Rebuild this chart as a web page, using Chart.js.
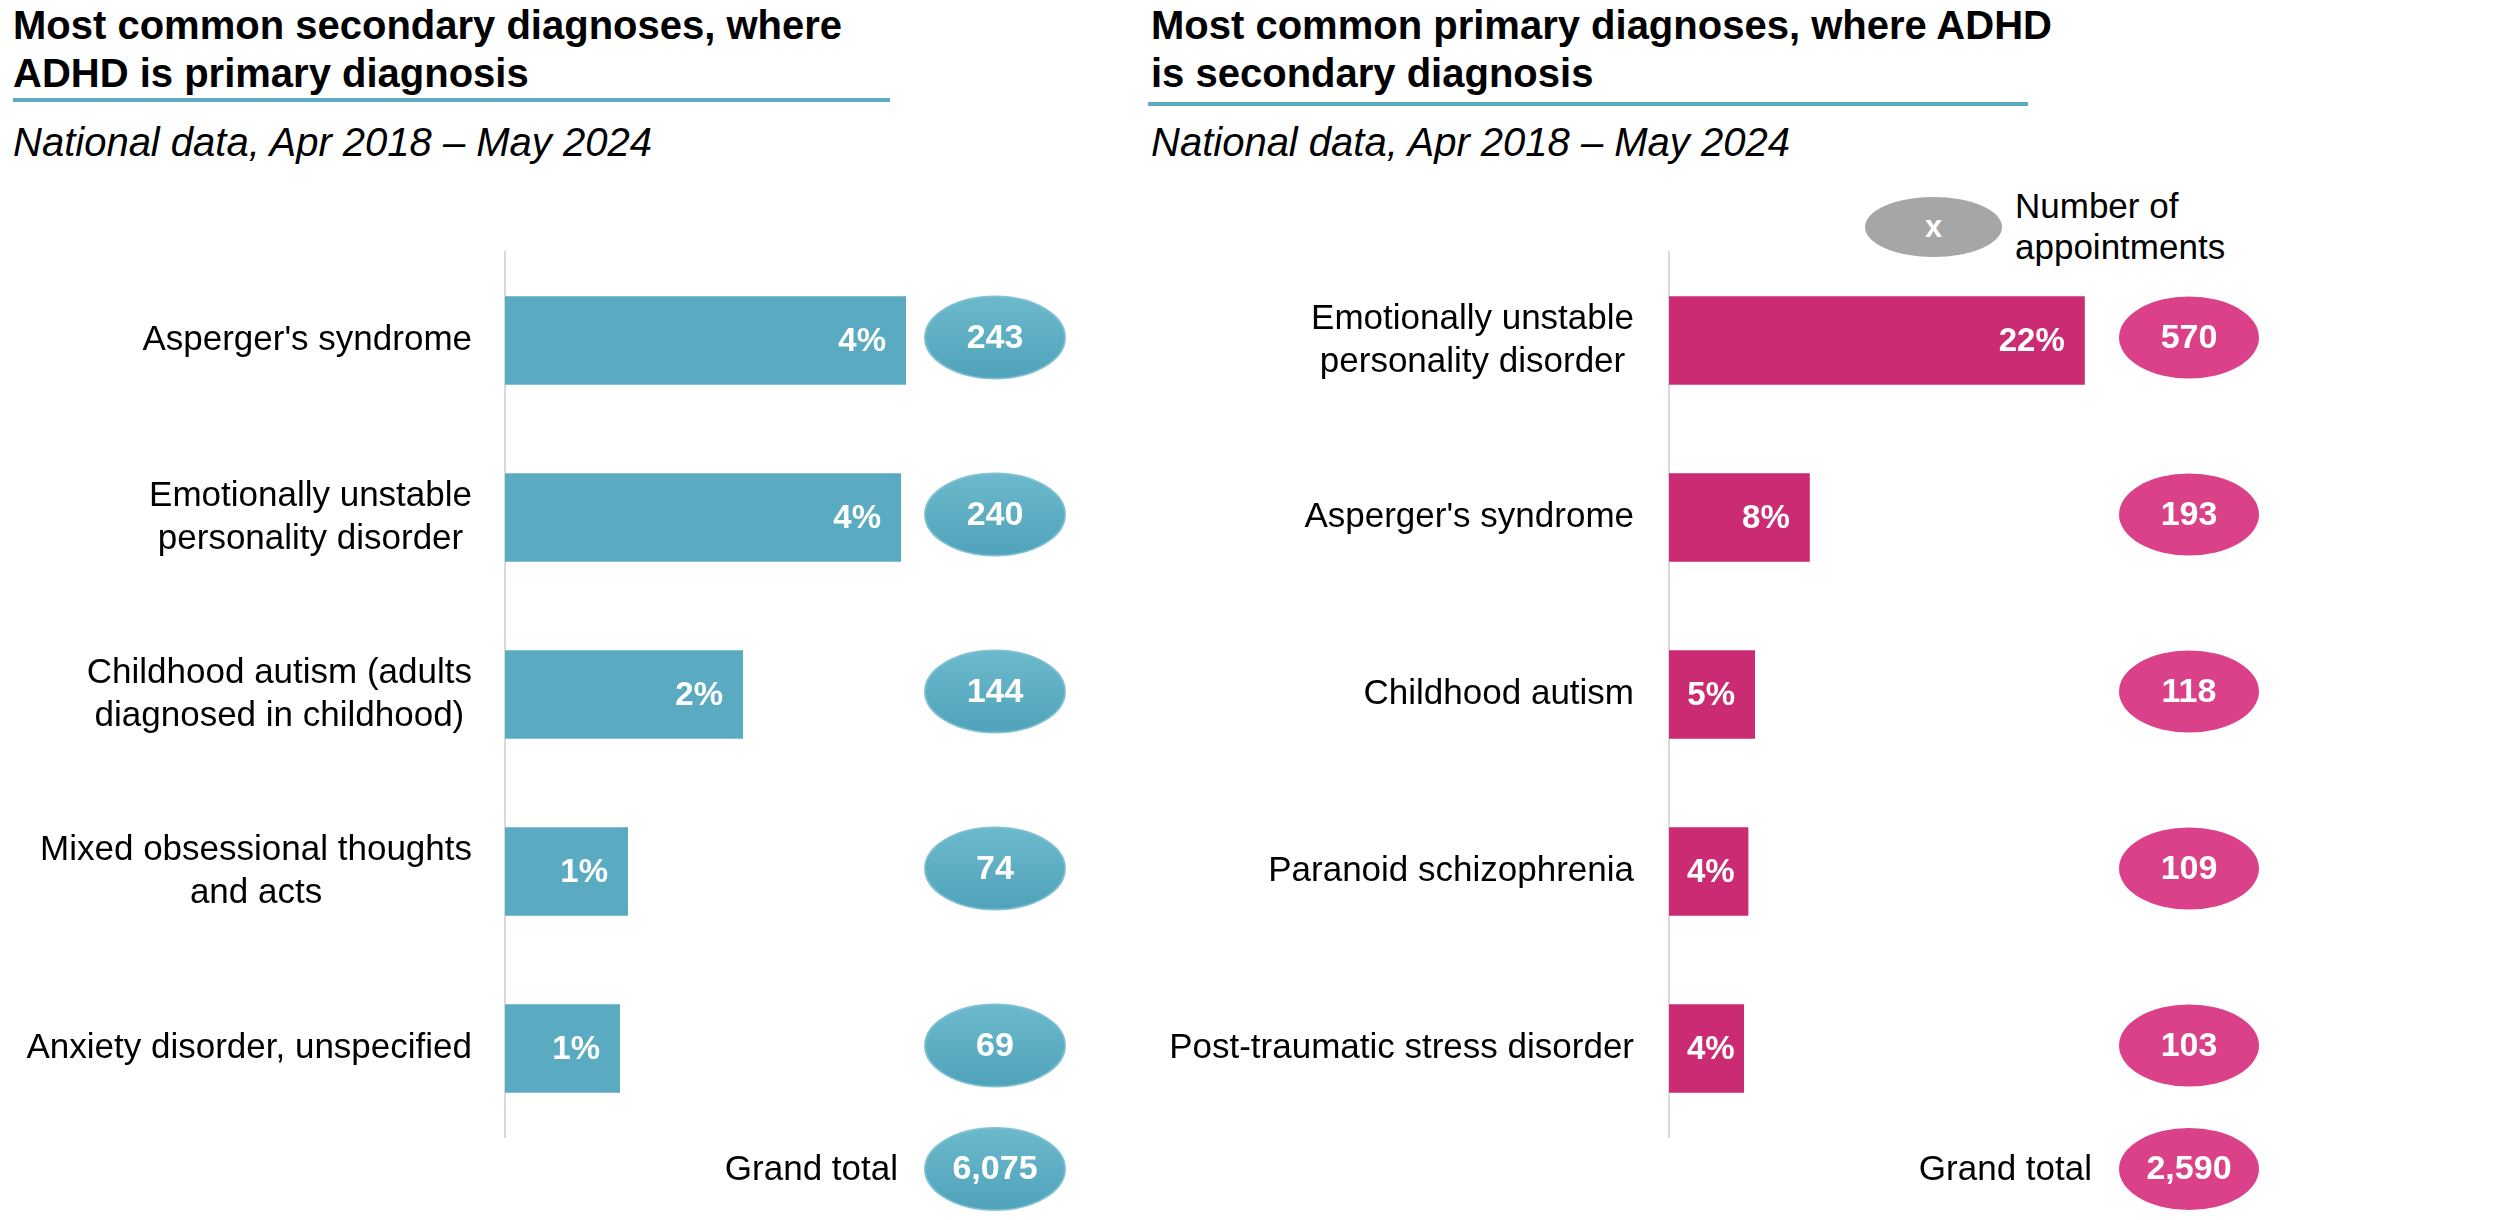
<!DOCTYPE html>
<html>
<head>
<meta charset="utf-8">
<script src="https://cdn.jsdelivr.net/npm/chart.js@4.4.1/dist/chart.umd.min.js"></script>
<style>
  html, body { margin: 0; padding: 0; background: #fff; }
  body { width: 2500px; height: 1220px; position: relative; overflow: hidden;
         font-family: 'Liberation Sans', Arial, sans-serif; color: #000; }
  .title { position: absolute; font-weight: bold; font-size: 40px; line-height: 48px; white-space: nowrap; }
  .rule  { position: absolute; height: 4px; background: #5aabc1; }
  .sub   { position: absolute; font-style: italic; font-size: 40px; line-height: 48px; white-space: nowrap; }
  .key   { position: absolute; left: 1865px; top: 197px; width: 137px; height: 60px; border-radius: 50%;
           background: #a6a6a6; color: #fff; font-weight: bold; font-size: 31px; line-height: 60px; text-align: center; }
  .keytxt { position: absolute; left: 2015px; top: 185px; font-size: 35px; line-height: 41px; }
  canvas { position: absolute; top: 0; }
</style>
</head>
<body>
<div class="title" style="left:13px;top:1px;">Most common secondary diagnoses, where<br>ADHD is primary diagnosis</div>
<div class="rule" style="left:13px;top:98px;width:877px;"></div>
<div class="sub" style="left:13px;top:118px;">National data, Apr 2018 – May 2024</div>

<div class="title" style="left:1151px;top:1px;">Most common primary diagnoses, where ADHD<br>is secondary diagnosis</div>
<div class="rule" style="left:1148px;top:102px;width:880px;"></div>
<div class="sub" style="left:1151px;top:118px;">National data, Apr 2018 – May 2024</div>

<div class="key">x</div>
<div class="keytxt">Number of<br>appointments</div>

<canvas id="leftChart" width="1130" height="1220" style="left:0;"></canvas>
<canvas id="rightChart" width="1370" height="1220" style="left:1130px;"></canvas>

<script>
/* ─── Data ───────────────────────────────────────────────── */
const leftLabels = [
  "Asperger's syndrome",
  ['Emotionally unstable', 'personality disorder'],
  ['Childhood autism (adults', 'diagnosed in childhood)'],
  ['Mixed obsessional thoughts', 'and acts'],
  'Anxiety disorder, unspecified'
];
const leftShare  = [4.01, 3.96, 2.38, 1.23, 1.15];   // % of appointments (bar length)
const leftPct    = ['4%', '4%', '2%', '1%', '1%'];
const leftCounts = ['243', '240', '144', '74', '69'];
const leftTotal  = '6,075';

const rightLabels = [
  ['Emotionally unstable', 'personality disorder'],
  "Asperger's syndrome",
  'Childhood autism',
  'Paranoid schizophrenia',
  'Post-traumatic stress disorder'
];
const rightShare  = [22.0, 7.45, 4.55, 4.2, 3.97];
const rightPct    = ['22%', '8%', '5%', '4%', '4%'];
const rightCounts = ['570', '193', '118', '109', '103'];
const rightTotal  = '2,590';

const FONT = '"Liberation Sans", Arial, sans-serif';

/* ─── Plugin: labels, in-bar %, count ellipses, grand total ─ */
const panelPlugin = {
  id: 'panel',
  afterDraw(chart, args, opts) {
    const ctx  = chart.ctx;
    const ys   = chart.scales.y;
    const area = chart.chartArea;
    const meta = chart.getDatasetMeta(0);
    ctx.save();

    // category labels: block right-aligned, lines centred
    ctx.font = '35px ' + FONT;
    ctx.fillStyle = '#000';
    ctx.textBaseline = 'middle';
    ctx.textAlign = 'center';
    chart.data.labels.forEach((lab, i) => {
      const lines = Array.isArray(lab) ? lab : [lab];
      const w  = Math.max(...lines.map(l => ctx.measureText(l).width));
      const cx = area.left - opts.labelPad - w / 2;
      const cy = ys.getPixelForValue(i);
      lines.forEach((l, k) => ctx.fillText(l, cx, cy + (k - (lines.length - 1) / 2) * 43));
    });

    // percentage inside bars
    ctx.font = 'bold 33px ' + FONT;
    ctx.fillStyle = '#fff';
    ctx.textAlign = 'right';
    meta.data.forEach((bar, i) => {
      const t  = opts.pct[i];
      const tw = ctx.measureText(t).width;
      const x  = Math.max(bar.x - 20, bar.base + 18 + tw);
      ctx.fillText(t, x, bar.y + 1);
    });

    // ellipse helper
    const ellipse = (cx, cy, txt) => {
      ctx.beginPath();
      ctx.ellipse(cx, cy, 70, 41, 0, 0, Math.PI * 2);
      if (opts.gradient) {
        const g = ctx.createLinearGradient(0, cy - 41, 0, cy + 41);
        g.addColorStop(0, opts.gradient[0]);
        g.addColorStop(1, opts.gradient[1]);
        ctx.fillStyle = g;
      } else {
        ctx.fillStyle = opts.ellipseColor;
      }
      ctx.fill();
      if (opts.ellipseBorder) {
        ctx.lineWidth = 2;
        ctx.strokeStyle = opts.ellipseBorder;
        ctx.stroke();
      }
      ctx.fillStyle = '#fff';
      ctx.font = 'bold 34px ' + FONT;
      ctx.textAlign = 'center';
      ctx.fillText(txt, cx, cy + 1);
    };

    meta.data.forEach((bar, i) => ellipse(opts.ellipseX, bar.y - 3, opts.counts[i]));

    // grand total row
    const gy = area.bottom + 32;
    ellipse(opts.ellipseX, gy, opts.total);
    ctx.fillStyle = '#000';
    ctx.font = '35px ' + FONT;
    ctx.textAlign = 'right';
    ctx.fillText('Grand total', opts.ellipseX - 97, gy + 1);

    ctx.restore();
  }
};

/* ─── Chart builder ──────────────────────────────────────── */
function buildChart(id, labels, values, barColor, xMax, axisX, padRight, panel) {
  return new Chart(document.getElementById(id), {
    type: 'bar',
    data: {
      labels: labels,
      datasets: [{
        data: values,
        backgroundColor: barColor,
        borderWidth: 0,
        barPercentage: 0.5,
        categoryPercentage: 1
      }]
    },
    options: {
      indexAxis: 'y',
      responsive: false,
      animation: false,
      devicePixelRatio: 1,
      layout: { padding: { top: 252, bottom: 83, left: 0, right: padRight } },
      plugins: {
        legend: { display: false },
        tooltip: { enabled: false },
        panel: panel
      },
      scales: {
        x: { display: false, min: 0, max: xMax },
        y: {
          ticks: { display: false },
          grid: { display: false },
          border: { display: true, color: '#d9d9d9', width: 2 },
          afterFit: s => { s.width = axisX; }
        }
      }
    },
    plugins: [panelPlugin]
  });
}

buildChart('leftChart', leftLabels, leftShare, '#5aabc1', 6, 505, 25, {
  labelPad: 33, pct: leftPct, counts: leftCounts, total: leftTotal, ellipseX: 995,
  gradient: ['#6cb9cc', '#50a3ba'], ellipseBorder: 'rgba(120,190,208,0.9)'
});

buildChart('rightChart', rightLabels, rightShare, '#cb2b73', 30, 539, 264, {
  labelPad: 35, pct: rightPct, counts: rightCounts, total: rightTotal, ellipseX: 1059,
  ellipseColor: '#da4189'
});
</script>
</body>
</html>
